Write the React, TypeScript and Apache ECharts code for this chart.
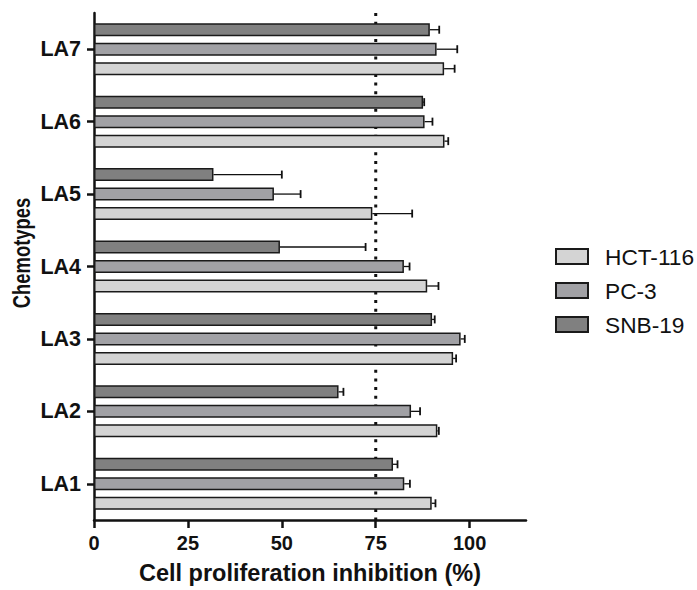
import React, { useEffect, useRef } from "react";
import * as echarts from "echarts";

const categories = ["LA1", "LA2", "LA3", "LA4", "LA5", "LA6", "LA7"];
const seriesNames = ["HCT-116", "PC-3", "SNB-19"];
const hct116 = [89.9, 91.4, 95.6, 88.7, 74.1, 93.3, 93.2];
const hct116Err = [1.0, 0.4, 0.8, 3.0, 10.6, 1.0, 2.8];
const pc3 = [82.6, 84.4, 97.6, 82.5, 47.9, 88.0, 91.2];
const pc3Err = [1.5, 2.4, 1.1, 1.5, 7.1, 2.1, 5.5];
const snb19 = [79.6, 65.1, 90.0, 49.5, 31.8, 87.6, 89.4];
const snb19Err = [1.2, 1.3, 0.7, 22.8, 18.2, 0.3, 2.5];
const xTicks = [0, 25, 50, 75, 100];
const thresholdValue = 75;
const yAxisTitle = "Chemotypes";
const xAxisTitle = "Cell proliferation inhibition (%)";

const FONT = 'Arial, "Liberation Sans", Helvetica, sans-serif';
const colors = ["#d4d4d4", "#a1a1a5", "#808080"];
const BAR_W = 13;
const STEP = BAR_W * 1.5;

export default function App() {
  const ref = useRef<HTMLDivElement>(null);
  useEffect(() => {
    if (!ref.current) return;
    const chart = echarts.init(ref.current, null, { renderer: "svg" });
    const values = [hct116, pc3, snb19];
    const errs = [hct116Err, pc3Err, snb19Err];
    // series 0 is drawn at the top of each group by ECharts; order so HCT-116 is at the bottom
    const order = [2, 1, 0];
    const barSeries: any[] = order.map((i) => ({
      name: seriesNames[i],
      type: "bar",
      data: values[i],
      barWidth: BAR_W,
      barGap: "50%",
      z: 3,
      itemStyle: { color: colors[i], borderColor: "#1a1a1a", borderWidth: 1.5 },
    }));
    const errSeries: any[] = order.map((i, k) => ({
      type: "custom",
      name: seriesNames[i] + " err",
      z: 4,
      silent: true,
      data: values[i].map((v, j) => [v, j, errs[i][j]]),
      encode: { x: 0, y: 1 },
      renderItem: (params: any, api: any) => {
        const v = api.value(0);
        const c = api.value(1);
        const e = api.value(2);
        const p0 = api.coord([v, c]);
        const p1 = api.coord([v + e, c]);
        const y = p0[1] + (k - 1) * STEP;
        return {
          type: "group",
          children: [
            { type: "line", shape: { x1: p0[0], y1: y, x2: p1[0], y2: y }, style: { stroke: "#111", lineWidth: 1.3 } },
            { type: "line", shape: { x1: p1[0], y1: y - 4, x2: p1[0], y2: y + 4 }, style: { stroke: "#111", lineWidth: 1.8 } },
          ],
        };
      },
    }));
    const thresholdSeries = {
      type: "custom",
      name: "threshold",
      z: 1,
      silent: true,
      data: [[thresholdValue, 0]],
      encode: { x: 0, y: 1 },
      renderItem: (params: any, api: any) => {
        const cs = params.coordSys;
        const x = api.coord([api.value(0), 0])[0];
        return {
          type: "line",
          shape: { x1: x, y1: cs.y, x2: x, y2: cs.y + cs.height },
          style: { stroke: "#111", lineWidth: 3, lineDash: [3, 5.7] },
        };
      },
    };
    chart.setOption({
      animation: false,
      textStyle: { fontFamily: FONT },
      grid: { left: 94, right: 171, top: 13, bottom: 67, containLabel: false },
      graphic: [
        {
          type: "text",
          x: 22,
          y: 253,
          rotation: Math.PI / 2,
          scaleX: 0.8,
          style: {
            text: yAxisTitle,
            fontSize: 23,
            fontWeight: "bold",
            fontFamily: FONT,
            fill: "#111",
            align: "center",
            verticalAlign: "middle",
          },
        },
      ],
      legend: {
        data: seriesNames,
        orient: "vertical",
        left: 555,
        top: 245,
        padding: 0,
        itemWidth: 32,
        itemHeight: 15,
        itemGap: 11,
        icon: "rect",
        textStyle: { fontSize: 22.7, color: "#111", fontFamily: FONT, padding: [0, 0, 0, 12] },
      },
      xAxis: {
        type: "value",
        min: 0,
        max: 115,
        interval: 25,
        name: xAxisTitle,
        nameLocation: "middle",
        nameGap: 41,
        nameTextStyle: { fontSize: 23.5, fontWeight: "bold", color: "#111", fontFamily: FONT },
        axisLine: { show: true, lineStyle: { color: "#111", width: 2.5 } },
        axisTick: { show: true, length: 8, lineStyle: { color: "#111", width: 2.5 }, customValues: xTicks },
        axisLabel: { fontSize: 20, fontWeight: "bold", color: "#111", margin: 13, customValues: xTicks, fontFamily: FONT },
        splitLine: { show: false },
      },
      yAxis: {
        type: "category",
        data: categories,
        axisLine: { show: true, lineStyle: { color: "#111", width: 2.5 } },
        axisTick: { show: true, alignWithLabel: true, length: 7, lineStyle: { color: "#111", width: 2.5 } },
        axisLabel: { fontSize: 21.5, fontWeight: "bold", color: "#111", margin: 13, fontFamily: FONT },
      },
      series: [thresholdSeries, ...barSeries, ...errSeries],
    });
    return () => chart.dispose();
  }, []);
  return <div ref={ref} style={{ width: 697, height: 590, position: "absolute", left: 0, top: 0 }} />;
}
